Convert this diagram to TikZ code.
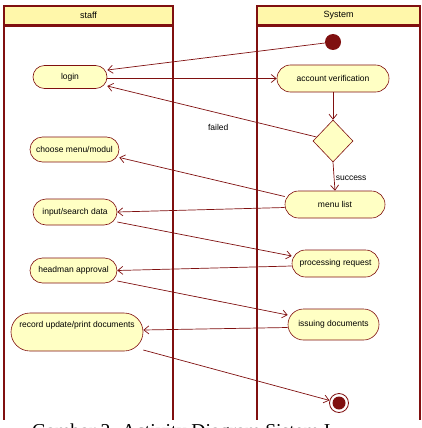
\documentclass[tikz,border=0pt]{standalone}
\usepackage{fontspec}
\setmainfont{Liberation Sans}
\newfontfamily\captionfont{Liberation Serif}
\usetikzlibrary{arrows.meta,shapes.misc,shapes.geometric}

\definecolor{umlred}{RGB}{128,16,16}
\definecolor{actfill}{RGB}{255,255,196}
\definecolor{headfill}{RGB}{255,247,170}

\tikzset{
    action/.style={rounded rectangle, draw=umlred, fill=actfill, line width=0.6pt, inner sep=0pt, font=\fontsize{8.5}{10}\selectfont},
    flow/.style={draw=umlred, line width=0.7pt, -{Straight Barb[length=5pt, width=8pt]}},
    lanehead/.style={draw=umlred, fill=headfill, line width=1.2pt, minimum height=19pt, inner sep=0pt, font=\fontsize{9}{11}\selectfont},
    guard/.style={font=\fontsize{8.5}{10}\selectfont, text=black}
}

\begin{document}
\begin{tikzpicture}[x=1pt, y=-1pt]
    \clip (0, 0) rectangle (422, 428);
    \fill[white] (0, 0) rectangle (422, 428);

    % swimlanes
    \draw[umlred, line width=1.2pt] (4, 16) -- (4, 420) (173, 16) -- (173, 420);
    \draw[umlred, line width=1.2pt] (257, 16) -- (257, 420) (420, 16) -- (420, 420);
    \node[lanehead, minimum width=169pt] (staff) at (88.5, 15.5) {staff};
    \node[lanehead, minimum width=163pt] (system) at (338.5, 15.5) {System};
    \draw[umlred, line width=2pt] (staff.south west) -- (staff.south east);
    \draw[umlred, line width=2pt] (system.south west) -- (system.south east);

    % staff actions
    \node[action, minimum width=74pt, minimum height=23pt] (login) at (70, 77) {login};
    \node[action, minimum width=89pt, minimum height=25pt] (choose) at (74.5, 149.5) {choose menu/modul};
    \node[action, minimum width=84pt, minimum height=26pt] (input) at (75, 212) {input/search data};
    \node[action, minimum width=87pt, minimum height=25pt] (headman) at (73.5, 270.5) {headman approval};
    \node[action, minimum width=132pt, minimum height=38pt, text depth=16pt] (record) at (77, 332) {record update/print documents};

    % system actions
    \node[circle, fill=umlred, minimum size=16pt, inner sep=0pt] (start) at (333, 42) {};
    \node[action, minimum width=112pt, minimum height=27pt] (verify) at (333, 78.5) {account verification};
    \node[diamond, draw=umlred, fill=actfill, line width=0.6pt, minimum width=40pt, minimum height=42pt, inner sep=0pt] (check) at (333, 141) {};
    \node[action, minimum width=100pt, minimum height=27pt] (menu) at (335, 204.5) {menu list};
    \node[action, minimum width=87pt, minimum height=27pt] (process) at (335.5, 263.5) {processing request};
    \node[action, minimum width=91pt, minimum height=31pt] (issue) at (333.5, 324.5) {issuing documents};
    \node[circle, draw=umlred, line width=0.8pt, fill=white, minimum size=19pt, inner sep=0pt,
          path picture={\fill[umlred] (path picture bounding box.center) circle (6.5pt);}] (stop) at (339, 403) {};

    % flows
    \draw[flow] (start) -- ([yshift=7pt]login.east);
    \draw[flow] (login.east |- verify.west) -- (verify.west);
    \draw[flow] (verify.south) -- (check.north);
    \draw[flow] (check) -- ([yshift=-9pt]login.east) node[guard, pos=0.47, below=8pt] {failed};
    \draw[flow] (check.south) -- (menu.north) node[guard, pos=0.55, anchor=west, xshift=-2pt] {success};
    \draw[flow] ([yshift=8pt]menu.west) -- ([yshift=-8pt]choose.east);
    \draw[flow] ([yshift=-3pt]menu.west) -- (input.east);
    \draw[flow] ([yshift=-10pt]input.east) -- ([yshift=7.5pt]process.west);
    \draw[flow] ([yshift=-2.5pt]process.west) -- (headman.east);
    \draw[flow] ([yshift=-10.5pt]headman.east) -- ([yshift=9.5pt]issue.west);
    \draw[flow] ([yshift=-3pt]issue.west) -- ([yshift=2pt]record.east);
    \draw[flow] ([yshift=-18pt]record.east) -- (stop);

    % caption, cut by the page edge
    \node[anchor=base west, inner sep=0pt, font=\captionfont\fontsize{19.7}{22}\selectfont] (caption) at (32, 437) {Gambar 2. Activity Diagram Sistem I};
\end{tikzpicture}
\end{document}
